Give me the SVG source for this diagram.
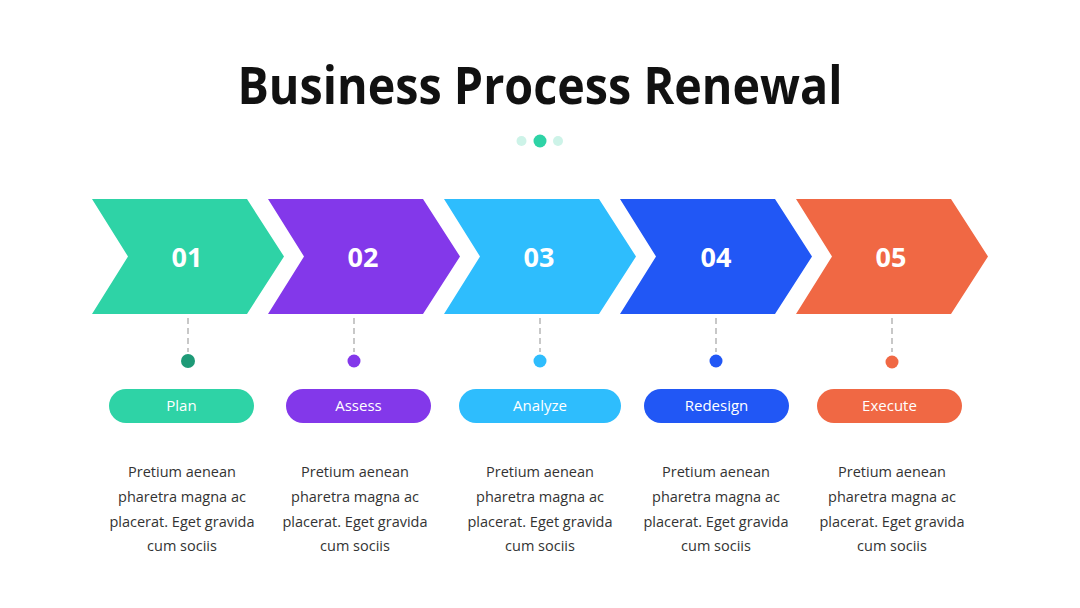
<svg xmlns="http://www.w3.org/2000/svg" width="1080" height="608" viewBox="0 0 1080 608">
<style>
.title{font-family:"Open Sans","Noto Sans",sans-serif;font-weight:700;font-size:52px;fill:#111;}
.num{font-family:"Open Sans","Noto Sans",sans-serif;font-weight:700;font-size:27px;fill:#fff;text-anchor:middle;}
.lbl{font-family:"Open Sans","Noto Sans",sans-serif;font-size:15px;fill:#fff;text-anchor:middle;}
.body{font-family:"Open Sans","Noto Sans",sans-serif;font-size:14.5px;fill:#333;text-anchor:middle;}
.dash{stroke:#c8c8c8;stroke-width:2;stroke-dasharray:6,4;fill:none;}
</style>
<defs>
<polygon id="chev" points="0,0 155,0 192,57.5 155,115 0,115 36,57.5"/>
</defs>
<rect width="1080" height="608" fill="#fff"/>
<text class="title" x="540" y="104" text-anchor="middle" textLength="605" lengthAdjust="spacingAndGlyphs">Business Process Renewal</text>
<circle cx="521.5" cy="141" r="5" fill="#cdf3e8"/>
<circle cx="540" cy="141" r="6.5" fill="#2ed3a6"/>
<circle cx="558" cy="141" r="5" fill="#cdf3e8"/>
<g id="connectors">
<line class="dash" x1="188" y1="318" x2="188" y2="352"/>
<line class="dash" x1="354" y1="318" x2="354" y2="352"/>
<line class="dash" x1="540" y1="318" x2="540" y2="352"/>
<line class="dash" x1="716" y1="318" x2="716" y2="352"/>
<line class="dash" x1="892" y1="318" x2="892" y2="352"/>
</g>
<g id="step1">
<use href="#chev" x="92" y="199" fill="#2ed3a6"/>
<text class="num" x="187" y="267">01</text>
<circle cx="188" cy="361" r="7" fill="#1e9a77"/>
<rect x="109" y="389" width="145" height="34" rx="17" fill="#2ed3a6"/>
<text class="lbl" x="181.5" y="411">Plan</text>
<text class="body" x="182" y="477">Pretium aenean</text>
<text class="body" x="182" y="502">pharetra magna ac</text>
<text class="body" x="182" y="527">placerat. Eget gravida</text>
<text class="body" x="182" y="551">cum sociis</text>
</g>
<g id="step2">
<use href="#chev" x="268" y="199" fill="#8338ea"/>
<text class="num" x="363" y="267">02</text>
<circle cx="354" cy="361" r="6.5" fill="#8338ea"/>
<rect x="286" y="389" width="145" height="34" rx="17" fill="#8338ea"/>
<text class="lbl" x="358.5" y="411">Assess</text>
<text class="body" x="355" y="477">Pretium aenean</text>
<text class="body" x="355" y="502">pharetra magna ac</text>
<text class="body" x="355" y="527">placerat. Eget gravida</text>
<text class="body" x="355" y="551">cum sociis</text>
</g>
<g id="step3">
<use href="#chev" x="444" y="199" fill="#2ebdfd"/>
<text class="num" x="539" y="267">03</text>
<circle cx="540" cy="361" r="6.5" fill="#2ebdfd"/>
<rect x="459" y="389" width="162" height="34" rx="17" fill="#2ebdfd"/>
<text class="lbl" x="540" y="411">Analyze</text>
<text class="body" x="540" y="477">Pretium aenean</text>
<text class="body" x="540" y="502">pharetra magna ac</text>
<text class="body" x="540" y="527">placerat. Eget gravida</text>
<text class="body" x="540" y="551">cum sociis</text>
</g>
<g id="step4">
<use href="#chev" x="620" y="199" fill="#2157f5"/>
<text class="num" x="716" y="267">04</text>
<circle cx="716" cy="361" r="6.5" fill="#2157f5"/>
<rect x="644" y="389" width="145" height="34" rx="17" fill="#2157f5"/>
<text class="lbl" x="716.5" y="411">Redesign</text>
<text class="body" x="716" y="477">Pretium aenean</text>
<text class="body" x="716" y="502">pharetra magna ac</text>
<text class="body" x="716" y="527">placerat. Eget gravida</text>
<text class="body" x="716" y="551">cum sociis</text>
</g>
<g id="step5">
<use href="#chev" x="796" y="199" fill="#f06844"/>
<text class="num" x="891" y="267">05</text>
<circle cx="892" cy="362" r="6.5" fill="#f06844"/>
<rect x="817" y="389" width="145" height="34" rx="17" fill="#f06844"/>
<text class="lbl" x="889.5" y="411">Execute</text>
<text class="body" x="892" y="477">Pretium aenean</text>
<text class="body" x="892" y="502">pharetra magna ac</text>
<text class="body" x="892" y="527">placerat. Eget gravida</text>
<text class="body" x="892" y="551">cum sociis</text>
</g>
</svg>
